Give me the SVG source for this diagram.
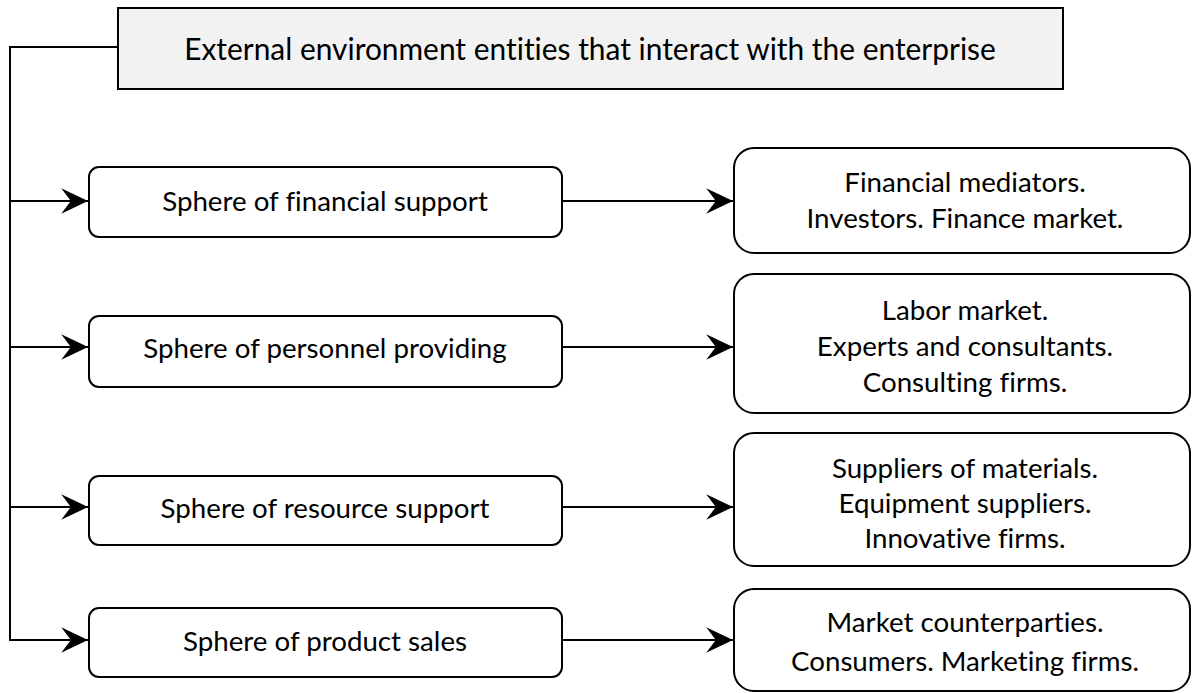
<svg xmlns="http://www.w3.org/2000/svg" width="1192" height="693" viewBox="0 0 1192 693">
<style>
.box{fill:#ffffff;stroke:#000000;stroke-width:2}
.title{fill:#f2f2f2;stroke:#000000;stroke-width:2}
.t{font-family:Lato,"Open Sans","Liberation Sans",sans-serif;font-size:27.7px;fill:#000000;text-anchor:middle;font-variant-ligatures:none}
.tt{font-size:29.9px}
.c{fill:none;stroke:#000000;stroke-width:2}
</style>
<defs>
<marker id="arr" markerUnits="userSpaceOnUse" markerWidth="30" markerHeight="30" viewBox="-26 -13 28 26" refX="0" refY="0" orient="auto">
<path d="M0,0 L-25,-12 L-16,0 L-25,12 Z" fill="#000000"/>
</marker>
</defs>
<rect width="1192" height="693" fill="#ffffff"/>
<g id="connectors">
<path class="c" d="M118,47 H10 V640 H88" marker-end="url(#arr)"/>
<path class="c" d="M10,201 H88" marker-end="url(#arr)"/>
<path class="c" d="M10,347 H88" marker-end="url(#arr)"/>
<path class="c" d="M10,507 H88" marker-end="url(#arr)"/>
<path class="c" d="M562,201 H733" marker-end="url(#arr)"/>
<path class="c" d="M562,347 H733" marker-end="url(#arr)"/>
<path class="c" d="M562,507 H733" marker-end="url(#arr)"/>
<path class="c" d="M562,640 H733" marker-end="url(#arr)"/>
</g>
<g id="top">
<rect class="title" x="118" y="8" width="945" height="81"/>
<text class="t tt" x="590" y="60">External environment entities that interact with the enterprise</text>
</g>
<g id="sphere-financial">
<rect class="box" x="89" y="167" width="473" height="70" rx="10"/>
<text class="t" x="325" y="211">Sphere of financial support</text>
</g>
<g id="sphere-personnel">
<rect class="box" x="89" y="316" width="473" height="71" rx="10"/>
<text class="t" x="325" y="358">Sphere of personnel providing</text>
</g>
<g id="sphere-resource">
<rect class="box" x="89" y="476" width="473" height="69" rx="10"/>
<text class="t" x="325" y="518">Sphere of resource support</text>
</g>
<g id="sphere-sales">
<rect class="box" x="89" y="608" width="473" height="69" rx="10"/>
<text class="t" x="325" y="651">Sphere of product sales</text>
</g>
<g id="financial-entities">
<rect class="box" x="734" y="148" width="456" height="105" rx="20"/>
<text class="t" x="965" y="192">Financial mediators.</text>
<text class="t" x="965" y="228">Investors. Finance market.</text>
</g>
<g id="personnel-entities">
<rect class="box" x="734" y="274" width="456" height="139" rx="20"/>
<text class="t" x="965" y="320">Labor market.</text>
<text class="t" x="965" y="356">Experts and consultants.</text>
<text class="t" x="965" y="392">Consulting firms.</text>
</g>
<g id="resource-entities">
<rect class="box" x="734" y="433" width="456" height="133" rx="20"/>
<text class="t" x="965" y="478">Suppliers of materials.</text>
<text class="t" x="965" y="513">Equipment suppliers.</text>
<text class="t" x="965" y="548">Innovative firms.</text>
</g>
<g id="sales-entities">
<rect class="box" x="734" y="589" width="456" height="102" rx="20"/>
<text class="t" x="965" y="632">Market counterparties.</text>
<text class="t" x="965" y="671">Consumers. Marketing firms.</text>
</g>
</svg>
